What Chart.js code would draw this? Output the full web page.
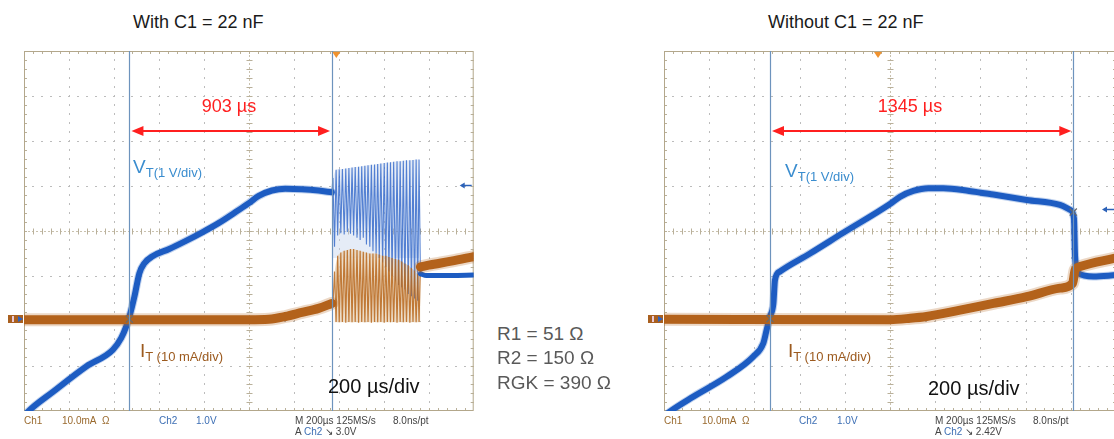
<!DOCTYPE html>
<html><head><meta charset="utf-8">
<script src="https://cdn.jsdelivr.net/npm/chart.js@4/dist/chart.umd.min.js"></script>
<style>
html,body{margin:0;padding:0;background:#fff;overflow:hidden;width:1114px;height:439px;}
body{position:relative;font-family:"Liberation Sans",Arial,sans-serif;}
canvas{position:absolute;}
.t{position:absolute;white-space:nowrap;line-height:1;}
.s{font-size:10px;position:absolute;white-space:nowrap;line-height:1;}
</style></head><body>
<canvas id="cL" style="left:0px;top:40px" width="480" height="380"></canvas>
<canvas id="cR" style="left:645px;top:40px" width="480" height="380"></canvas>

<div class="t" style="left:133px;top:13px;font-size:18px;color:#1a1a1a">With C1 = 22 nF</div>
<div class="t" style="left:768px;top:13px;font-size:18px;color:#1a1a1a">Without C1 = 22 nF</div>

<div class="t" style="left:229px;width:100px;margin-left:-50px;text-align:center;top:97px;font-size:18px;color:#ff1f1f">903 µs</div>
<div class="t" style="left:910px;width:100px;margin-left:-50px;text-align:center;top:97px;font-size:18px;color:#ff1f1f">1345 µs</div>

<div class="t" style="left:133px;top:157px;font-size:19px;color:#3a8dcf">V<span style="font-size:13px;position:relative;top:4px">T(1 V/div)</span></div>
<div class="t" style="left:785px;top:161px;font-size:19px;color:#3a8dcf">V<span style="font-size:13px;position:relative;top:4px">T(1 V/div)</span></div>

<div class="t" style="left:140px;top:341px;font-size:19px;color:#9c5a1e">I<span style="font-size:13px;position:relative;top:4px">T (10 mA/div)</span></div>
<div class="t" style="left:788px;top:341px;font-size:19px;color:#9c5a1e">I<span style="font-size:13px;position:relative;top:4px">T (10 mA/div)</span></div>

<div class="t" style="left:328px;top:376px;font-size:20px;color:#111">200 µs/div</div>
<div class="t" style="left:928px;top:378px;font-size:20px;color:#111">200 µs/div</div>

<div class="t" style="left:497px;top:324px;font-size:19px;color:#595959">R1 = 51 Ω</div>
<div class="t" style="left:497px;top:348px;font-size:19px;color:#595959">R2 = 150 Ω</div>
<div class="t" style="left:497px;top:373px;font-size:19px;color:#595959">RGK = 390 Ω</div>

<div class="s" style="left:24px;top:416px;color:#9a6a2e">Ch1</div>
<div class="s" style="left:62px;top:416px;color:#9a6a2e">10.0mA&nbsp; Ω</div>
<div class="s" style="left:159px;top:416px;color:#3c6eb4">Ch2</div>
<div class="s" style="left:196px;top:416px;color:#3c6eb4">1.0V</div>
<div class="s" style="left:295px;top:416px;color:#444">M 200µs 125MS/s</div>
<div class="s" style="left:393px;top:416px;color:#444">8.0ns/pt</div>
<div class="s" style="left:295px;top:427px;color:#444">A <span style="color:#3c6eb4">Ch2</span> ↘ 3.0V</div>

<div class="s" style="left:664px;top:416px;color:#9a6a2e">Ch1</div>
<div class="s" style="left:702px;top:416px;color:#9a6a2e">10.0mA&nbsp; Ω</div>
<div class="s" style="left:799px;top:416px;color:#3c6eb4">Ch2</div>
<div class="s" style="left:837px;top:416px;color:#3c6eb4">1.0V</div>
<div class="s" style="left:935px;top:416px;color:#444">M 200µs 125MS/s</div>
<div class="s" style="left:1033px;top:416px;color:#444">8.0ns/pt</div>
<div class="s" style="left:935px;top:427px;color:#444">A <span style="color:#3c6eb4">Ch2</span> ↘ 2.42V</div>

<script>
// ---------- data (time in µs, amplitude in scope divisions) ----------
const leftVtT = [0, 19, 130, 277, 395, 432, 454, 469, 491, 513, 535, 572, 646, 720, 793, 867, 941, 1000, 1044, 1103, 1162, 1236, 1310, 1369];
const leftVtV = [-4.12, -4.01, -3.57, -3.01, -2.64, -2.38, -2.13, -1.9, -1.46, -0.94, -0.72, -0.56, -0.4, -0.22, -0.03, 0.18, 0.42, 0.62, 0.78, 0.9, 0.94, 0.93, 0.9, 0.86];
const leftItT = [0, 1000, 1089, 1162, 1236, 1310, 1369];
const leftItV = [-1.97, -1.97, -1.96, -1.9, -1.81, -1.72, -1.61];
const leftVtTailT = [1763, 1790, 1900, 2000];
const leftVtTailV = [-0.95, -0.99, -0.99, -0.98];
const leftItTailT = [1763, 1800, 1900, 2000];
const leftItTailV = [-0.8, -0.76, -0.67, -0.57];

const oscPeakT   = [1374, 1388, 1402, 1416, 1431, 1445, 1459, 1473, 1488, 1502, 1516, 1530, 1545, 1559, 1573, 1587, 1602, 1616, 1630, 1644, 1659, 1673, 1687, 1701, 1716, 1730, 1744, 1757];
const oscValleyT = [1381, 1395, 1409, 1424, 1438, 1452, 1466, 1481, 1495, 1509, 1523, 1538, 1552, 1566, 1580, 1595, 1609, 1623, 1637, 1652, 1666, 1680, 1694, 1709, 1723, 1737, 1751, 1763];
const oscBlueHigh = [1.18, 1.36, 1.37, 1.38, 1.39, 1.40, 1.41, 1.42, 1.43, 1.44, 1.45, 1.46, 1.47, 1.48, 1.49, 1.50, 1.51, 1.52, 1.53, 1.54, 1.55, 1.55, 1.56, 1.57, 1.57, 1.58, 1.59, 1.59];
const oscBlueLow  = [-0.35, -0.1, -0.05, -0.08, -0.02, -0.06, -0.1, -0.15, -0.2, -0.15, -0.3, -0.35, -0.45, -0.5, -0.6, -0.7, -0.8, -0.9, -1.0, -1.1, -1.2, -1.25, -1.3, -1.4, -1.45, -1.5, -1.55, -0.98];
const oscBrownHigh = [-0.9, -0.55, -0.48, -0.44, -0.42, -0.4, -0.4, -0.42, -0.44, -0.46, -0.48, -0.5, -0.5, -0.5, -0.52, -0.55, -0.55, -0.58, -0.6, -0.62, -0.64, -0.68, -0.72, -0.76, -0.82, -0.88, -0.95, -0.8];
const oscBrownLow  = [-1.65, -2.02, -2.03, -2.02, -2.04, -2.02, -2.03, -2.02, -2.04, -2.02, -2.03, -2.02, -2.04, -2.02, -2.03, -2.02, -2.04, -2.02, -2.03, -2.02, -2.04, -2.02, -2.03, -2.02, -2.04, -2.02, -2.03, -2.02];

const rightVtT = [0, 27, 130, 277, 395, 439, 454, 469, 484, 491, 513, 646, 793, 1000, 1044, 1103, 1170, 1236, 1350, 1457, 1605, 1752, 1797, 1814, 1819, 1833, 1900, 2000];
const rightVtV = [-4.12, -4.01, -3.68, -3.24, -2.79, -2.5, -2.2, -1.9, -1.61, -1.09, -0.9, -0.5, -0.04, 0.6, 0.76, 0.89, 0.95, 0.95, 0.89, 0.81, 0.69, 0.58, 0.47, 0.28, -0.57, -0.94, -1.01, -0.98];
const rightItT = [0, 1000, 1089, 1162, 1310, 1457, 1605, 1752, 1808, 1819, 1841, 1991, 2000];
const rightItV = [-1.96, -1.97, -1.94, -1.9, -1.76, -1.61, -1.46, -1.27, -1.16, -0.87, -0.79, -0.61, -0.6];

const leftCursorT = [469, 1370];
const rightCursorT = [469, 1811];
const arrowLevel = 2.22;
const leftCrossT = [469], leftCrossV = [-1.96];
const rightCrossT = [469, 1811], rightCrossV = [-1.95, 0.42];
const leftTriggerT = 1389, rightTriggerT = 947;
const leftCh2Level = 1.02, rightCh2Level = 0.49;
const groundLevel = -1.96;

// ---------- helpers ----------
const pts = (T, V) => T.map((t, i) => ({x: t, y: V[i]}));
function zig(startT, startV, aT, aV, bT, bV) {
  const out = [{x: startT, y: startV}];
  aT.forEach((t, i) => { out.push({x: t, y: aV[i]}); out.push({x: bT[i], y: bV[i]}); });
  return out;
}
const BLUE = '#1d5cc2', BROWN = '#b3621b';
const BLUE_HALO = 'rgba(29,92,194,0.28)', BROWN_HALO = 'rgba(179,98,27,0.25)';

function trace(data, color, w, order) {
  return {data, borderColor: color, borderWidth: w, pointRadius: 0, fill: false,
    cubicInterpolationMode: 'monotone', order, borderCapStyle: 'round', borderJoinStyle: 'round'};
}

const scopePlugin = {
  id: 'scope',
  beforeDatasetsDraw(chart) {
    const ctx = chart.ctx, a = chart.chartArea, xs = chart.scales.x, ys = chart.scales.y;
    const X = v => xs.getPixelForValue(v), Y = v => ys.getPixelForValue(v);
    ctx.save();
    ctx.fillStyle = '#bcbcbc';
    for (let k = 1; k < 10; k++) {
      if (k === 5) continue;
      const x = Math.round(X(k * 200));
      for (let s = 1; s < 40; s++) ctx.fillRect(x, Math.round(Y(-4 + s * 0.2)) - 1, 1, 2);
    }
    for (let k = -3; k <= 3; k++) {
      if (k === 0) continue;
      const y = Math.round(Y(k));
      for (let s = 1; s < 50; s++) ctx.fillRect(Math.round(X(s * 40)) - 1, y, 2, 1);
    }
    ctx.strokeStyle = '#c9c1ae'; ctx.lineWidth = 1; ctx.setLineDash([2, 2]);
    const cx = Math.round(X(1000)) + 0.5, cy = Math.round(Y(0)) + 0.5;
    ctx.beginPath(); ctx.moveTo(a.left, cy); ctx.lineTo(a.right, cy);
    ctx.moveTo(cx, a.top); ctx.lineTo(cx, a.bottom); ctx.stroke();
    ctx.setLineDash([]);
    ctx.strokeStyle = '#b9b09a';
    ctx.beginPath();
    for (let s = 1; s < 50; s++) { const x = Math.round(X(s * 40)) + 0.5; ctx.moveTo(x, cy - 3); ctx.lineTo(x, cy + 3); }
    for (let s = 1; s < 40; s++) { const y = Math.round(Y(-4 + s * 0.2)) + 0.5; ctx.moveTo(cx - 3, y); ctx.lineTo(cx + 3, y); }
    for (let s = 1; s < 50; s++) { const x = Math.round(X(s * 40)) + 0.5; ctx.moveTo(x, a.top); ctx.lineTo(x, a.top + 3); ctx.moveTo(x, a.bottom); ctx.lineTo(x, a.bottom - 3); }
    for (let s = 1; s < 40; s++) { const y = Math.round(Y(-4 + s * 0.2)) + 0.5; ctx.moveTo(a.left, y); ctx.lineTo(a.left + 3, y); ctx.moveTo(a.right, y); ctx.lineTo(a.right - 3, y); }
    ctx.stroke();
    ctx.strokeStyle = '#b3a78b';
    ctx.strokeRect(a.left + 0.5, a.top + 0.5, a.right - a.left - 1, a.bottom - a.top - 1);
    ctx.restore();
  },
  afterDatasetsDraw(chart) {
    const o = chart.options.plugins.scope;
    const ctx = chart.ctx, a = chart.chartArea, xs = chart.scales.x, ys = chart.scales.y;
    const X = v => xs.getPixelForValue(v), Y = v => ys.getPixelForValue(v);
    ctx.save();
    ctx.strokeStyle = '#6d93bd'; ctx.lineWidth = 1.2;
    ctx.beginPath();
    o.cursors.forEach(t => { const x = Math.round(X(t)) + 0.5; ctx.moveTo(x, a.top); ctx.lineTo(x, a.bottom); });
    ctx.stroke();
    const y = Y(arrowLevel), x1 = X(o.cursors[0]) + 2, x2 = X(o.cursors[1]) - 2;
    ctx.strokeStyle = '#ff1f1f'; ctx.fillStyle = '#ff1f1f'; ctx.lineWidth = 2;
    ctx.beginPath(); ctx.moveTo(x1 + 8, y); ctx.lineTo(x2 - 8, y); ctx.stroke();
    ctx.beginPath(); ctx.moveTo(x1, y); ctx.lineTo(x1 + 12, y - 5); ctx.lineTo(x1 + 12, y + 5); ctx.closePath(); ctx.fill();
    ctx.beginPath(); ctx.moveTo(x2, y); ctx.lineTo(x2 - 12, y - 5); ctx.lineTo(x2 - 12, y + 5); ctx.closePath(); ctx.fill();
    const tx = X(o.trigger);
    ctx.fillStyle = '#f0922e';
    ctx.beginPath(); ctx.moveTo(tx - 4, a.top + 1); ctx.lineTo(tx + 4, a.top + 1); ctx.lineTo(tx, a.top + 7); ctx.closePath(); ctx.fill();
    const ly = Math.round(Y(o.ch2)) + 0.5;
    ctx.strokeStyle = '#2c62b8'; ctx.fillStyle = '#2c62b8'; ctx.lineWidth = 1.5;
    ctx.beginPath(); ctx.moveTo(a.right - 12, ly); ctx.lineTo(a.right - 2, ly); ctx.stroke();
    ctx.beginPath(); ctx.moveTo(a.right - 14, ly); ctx.lineTo(a.right - 9, ly - 3); ctx.lineTo(a.right - 9, ly + 3); ctx.closePath(); ctx.fill();
    const gy = Math.round(Y(groundLevel));
    ctx.fillStyle = '#a9601f';
    ctx.fillRect(a.left - 16, gy - 4, 15, 8);
    ctx.fillStyle = '#e8c8d8'; ctx.fillRect(a.left - 12, gy - 3, 2, 6);
    ctx.fillStyle = '#2f63c0';
    ctx.beginPath(); ctx.moveTo(a.left - 1, gy); ctx.lineTo(a.left - 6, gy - 3); ctx.lineTo(a.left - 6, gy + 3); ctx.closePath(); ctx.fill();
    ctx.restore();
  }
};

function makeChart(id, datasets, opts, padLeft, padRight) {
  return new Chart(document.getElementById(id), {
    type: 'line',
    data: {datasets},
    options: {
      responsive: false, animation: false, events: [],
      layout: {padding: {left: padLeft, right: padRight, top: 11, bottom: 9}},
      scales: {
        x: {type: 'linear', min: 0, max: 2000, display: false},
        y: {type: 'linear', min: -4, max: 4, display: false}
      },
      plugins: {legend: {display: false}, tooltip: {enabled: false}, scope: opts}
    },
    plugins: [scopePlugin]
  });
}

function crossSet(T, V) {
  return {data: pts(T, V), showLine: false, pointStyle: 'crossRot', pointRadius: 5,
    pointBorderColor: '#6a6a6a', pointBorderWidth: 1.3, order: 0};
}

const leftSets = [
  crossSet(leftCrossT, leftCrossV),
  trace(pts(leftItT, leftItV), BROWN, 9, 1),
  trace(pts(leftItT, leftItV), BROWN_HALO, 13, 2),
  trace(pts(leftItTailT, leftItTailV), BROWN, 9, 1),
  trace(pts(leftItTailT, leftItTailV), BROWN_HALO, 13, 2),
  trace(pts(leftVtT, leftVtV), BLUE, 6, 3),
  trace(pts(leftVtT, leftVtV), BLUE_HALO, 8, 4),
  trace(pts(leftVtTailT, leftVtTailV), BLUE, 5, 3),
  {data: zig(1369, -1.61, oscPeakT, oscBrownLow, oscValleyT, oscBrownHigh), borderColor: 'rgba(184,105,30,0.85)', borderWidth: 1.2, pointRadius: 0, tension: 0, order: 5},
  {data: zig(1369, 0.86, oscPeakT, oscBlueHigh, oscValleyT, oscBlueLow), borderColor: 'rgba(45,100,200,0.8)', borderWidth: 1.1, pointRadius: 0, tension: 0, order: 6},
  {data: pts(oscValleyT, oscBrownHigh), borderWidth: 0, pointRadius: 0, fill: {value: -2.03}, backgroundColor: 'rgba(232,212,186,0.8)', tension: 0.3, order: 7},
  {data: pts(oscPeakT, oscBlueHigh), borderWidth: 0, pointRadius: 0, fill: {value: -0.6}, backgroundColor: 'rgba(190,208,235,0.4)', tension: 0.3, order: 8}
];
makeChart('cL', leftSets, {cursors: leftCursorT, trigger: leftTriggerT, ch2: leftCh2Level}, 24, 4);

const rightSets = [
  crossSet(rightCrossT, rightCrossV),
  trace(pts(rightItT, rightItV), BROWN, 9, 1),
  trace(pts(rightItT, rightItV), BROWN_HALO, 13, 2),
  trace(pts(rightVtT, rightVtV), BLUE, 6, 3),
  trace(pts(rightVtT, rightVtV), BLUE_HALO, 8, 4)
];
makeChart('cR', rightSets, {cursors: rightCursorT, trigger: rightTriggerT, ch2: rightCh2Level}, 19, 9);
</script>
</body></html>
